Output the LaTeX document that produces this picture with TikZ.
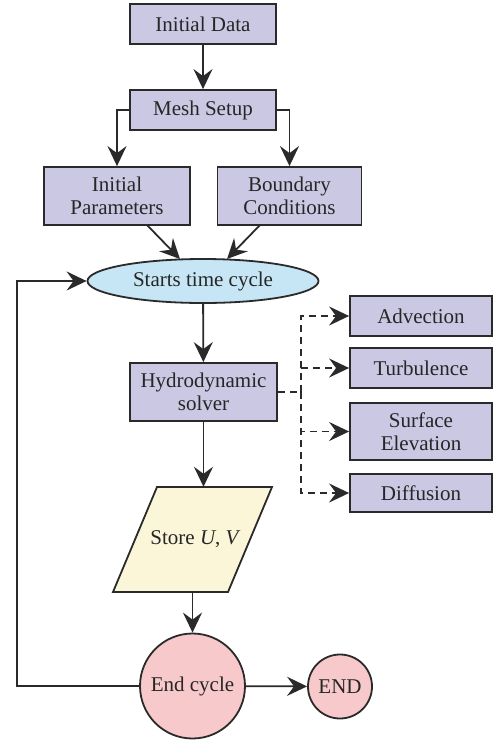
\documentclass[tikz,border=0pt]{standalone}
\usepackage{fontspec}
\setmainfont{Liberation Serif}
\usetikzlibrary{arrows.meta,shapes.geometric}
\definecolor{boxc}{HTML}{CBC8E4}
\definecolor{ellc}{HTML}{C6E6F5}
\definecolor{yelc}{HTML}{FBF6D8}
\definecolor{pinkc}{HTML}{F7C9CB}
\definecolor{linec}{HTML}{2A2A2A}
\begin{document}
\begin{tikzpicture}[x=1pt,y=-1pt,
  every node/.style={font=\fontsize{21}{23}\selectfont, text=black!85, align=center, inner sep=0pt},
  pbox/.style={draw=linec, line width=1.8pt, fill=boxc, rectangle, minimum width=146pt},
  sbox/.style={draw=linec, line width=1.8pt, fill=boxc, rectangle, minimum width=142pt},
  arr/.style={draw=linec, line width=1.8pt, -{Stealth[length=20pt,width=19pt,inset=7pt]}},
  darr/.style={arr, dash pattern=on 7pt off 5pt},
  ln/.style={draw=linec, line width=1.8pt}]
\useasboundingbox (0,0) rectangle (494,740);
% nodes
\node[pbox, minimum height=40pt] (init) at (203,24) {Initial Data};
\node[pbox, minimum height=40pt] (mesh) at (203,110) {Mesh Setup};
\node[pbox, minimum height=58pt] (ip) at (117,196) {Initial\\Parameters};
\node[pbox, minimum height=58pt, minimum width=144pt] (bc) at (289.5,196) {Boundary\\Conditions};
\node[ellipse, draw=linec, line width=1.8pt, fill=ellc, minimum width=231pt, minimum height=44pt] (start) at (203,281) {Starts time cycle};
\node[pbox, minimum width=147pt, minimum height=58pt] (hydro) at (203.5,392) {Hydrodynamic\\solver};
\node[sbox, minimum height=40pt] (adv) at (421,316) {Advection};
\node[sbox, minimum height=40pt] (turb) at (421,368) {Turbulence};
\node[sbox, minimum height=57pt] (surf) at (421,431.5) {Surface\\Elevation};
\node[sbox, minimum height=38pt] (diff) at (421,493) {Diffusion};
\draw[ln, fill=yelc] (157,487) -- (272,487) -- (228,592) -- (113,592) -- cycle;
\node[minimum width=115pt, minimum height=105pt] (store) at (192.5,539.5) {\hspace*{6pt}Store \textit{U}, \textit{V}};
\node[circle, draw=linec, line width=1.8pt, fill=pinkc, minimum size=105pt] (endc) at (192.5,686) {End cycle};
\node[circle, draw=linec, line width=1.8pt, fill=pinkc, minimum size=64pt] (fin) at (340,686.5) {END};
% connectors
\draw[arr] (init) -- (mesh);
\draw[arr] (mesh.west) -| (ip.north);
\draw[arr] (mesh.east) -| (bc.north);
\draw[arr] (147,225) -- (180,259);
\draw[arr] (260,225) -- (227,259);
\draw[arr] (start) -- (hydro);
\draw[arr] (hydro.south) -- (hydro.south |- store.north);
\draw[arr] (store.south) -- (endc.north);
\draw[arr] (endc) -- (fin);
\coordinate (lp) at (17,686);
\draw[arr] (endc.west) -- (lp) |- (start.west);
\coordinate (dj) at (301,392);
\draw[ln, dash pattern=on 7pt off 5pt] (hydro.east) -- (dj);
\draw[darr] (dj) |- (adv.west);
\draw[darr] (dj) |- (turb.west);
\draw[darr] (dj) |- (surf.west);
\draw[darr] (dj) |- (diff.west);
\end{tikzpicture}
\end{document}
